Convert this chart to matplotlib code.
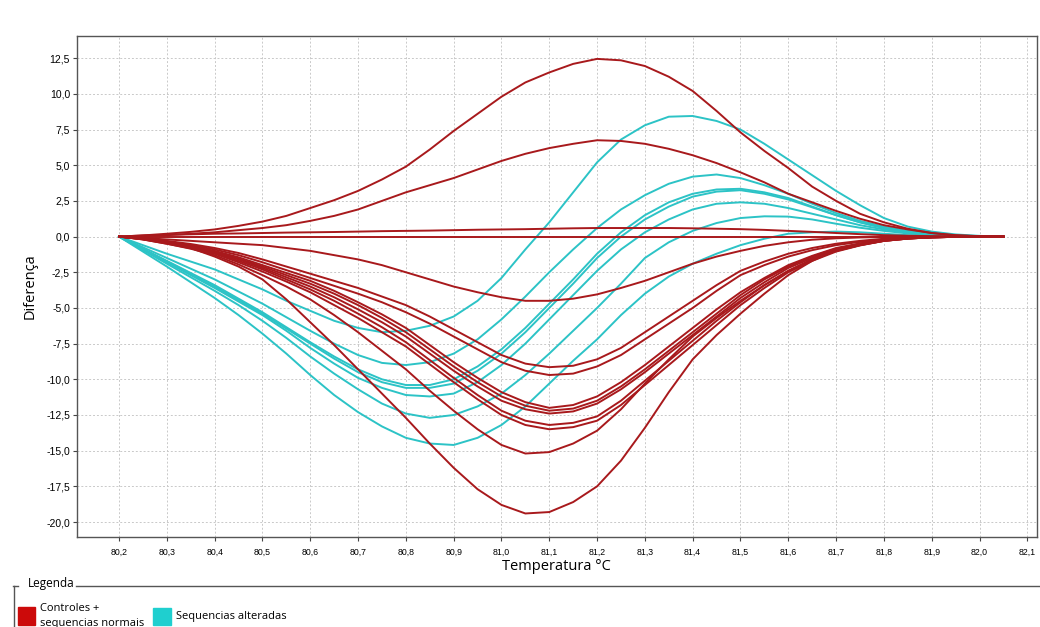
import matplotlib
matplotlib.use("Agg")
import matplotlib.pyplot as plt
from matplotlib.patches import Rectangle
from matplotlib.lines import Line2D
from matplotlib.ticker import FuncFormatter

# temperature points (°C), every 0.05 from 80.2 to 82.05
temps = [80.2, 80.25, 80.3, 80.35, 80.4, 80.45, 80.5, 80.55, 80.6, 80.65,
         80.7, 80.75, 80.8, 80.85, 80.9, 80.95, 81.0, 81.05, 81.1, 81.15,
         81.2, 81.25, 81.3, 81.35, 81.4, 81.45, 81.5, 81.55, 81.6, 81.65,
         81.7, 81.75, 81.8, 81.85, 81.9, 81.95, 82.0, 82.05]

# controles + sequencias normais (red)
red_curves = [
    [0, 0.08, 0.2, 0.33, 0.5, 0.75, 1.05, 1.45, 2.0, 2.55,
     3.2, 4.0, 4.9, 6.1, 7.4, 8.6, 9.8, 10.8, 11.5, 12.1,
     12.45, 12.35, 11.95, 11.2, 10.2, 8.8, 7.3, 6.0, 4.8, 3.5,
     2.5, 1.6, 1.0, 0.55, 0.25, 0.08, 0.02, 0],
    [0, 0.05, 0.1, 0.2, 0.3, 0.45, 0.6, 0.8, 1.1, 1.45,
     1.9, 2.5, 3.1, 3.6, 4.1, 4.7, 5.3, 5.8, 6.2, 6.5,
     6.75, 6.7, 6.5, 6.15, 5.7, 5.15, 4.5, 3.8, 3.0, 2.4,
     1.8, 1.25, 0.8, 0.5, 0.25, 0.1, 0.03, 0],
    [0, 0.08, 0.12, 0.16, 0.2, 0.22, 0.25, 0.28, 0.3, 0.32,
     0.35, 0.38, 0.4, 0.42, 0.45, 0.48, 0.5, 0.52, 0.55, 0.58,
     0.6, 0.6, 0.6, 0.6, 0.58, 0.55, 0.52, 0.47, 0.4, 0.33,
     0.25, 0.17, 0.1, 0.06, 0.03, 0.01, 0, 0],
    [0, 0, 0, 0, 0, 0, 0, 0, 0, 0,
     0, 0, 0, 0, 0, 0, 0, 0, 0, 0,
     0, 0, 0, 0, 0, 0, 0, 0, 0, 0,
     0, 0, 0, 0, 0, 0, 0, 0],
    [0, -0.1, -0.2, -0.3, -0.4, -0.5, -0.6, -0.8, -1.0, -1.3,
     -1.6, -2.0, -2.5, -3.0, -3.5, -3.9, -4.25, -4.5, -4.5, -4.35,
     -4.05, -3.6, -3.1, -2.5, -1.9, -1.4, -1.0, -0.65, -0.4, -0.22,
     -0.12, -0.06, -0.03, -0.01, 0, 0, 0, 0],
    [0, -0.12, -0.3, -0.52, -0.8, -1.15, -1.6, -2.1, -2.6, -3.1,
     -3.6, -4.2, -4.8, -5.6, -6.5, -7.4, -8.3, -8.9, -9.15, -9.05,
     -8.6, -7.8, -6.7, -5.6, -4.5, -3.4, -2.4, -1.75, -1.2, -0.8,
     -0.5, -0.3, -0.15, -0.07, -0.03, -0.01, 0, 0],
    [0, -0.14, -0.35, -0.6, -0.9, -1.3, -1.8, -2.35, -2.9, -3.45,
     -4.0, -4.6, -5.3, -6.1, -7.0, -7.9, -8.8, -9.4, -9.7, -9.6,
     -9.1, -8.3, -7.2, -6.1, -5.0, -3.8, -2.7, -2.0, -1.4, -0.95,
     -0.6, -0.37, -0.2, -0.1, -0.05, -0.02, 0, 0],
    [0, -0.15, -0.4, -0.68, -1.0, -1.45, -2.0, -2.55, -3.1, -3.8,
     -4.6, -5.45, -6.4, -7.6, -8.8, -9.9, -10.9, -11.6, -12.0, -11.8,
     -11.2, -10.2, -9.0, -7.7, -6.4, -5.1, -3.9, -2.9, -2.0, -1.35,
     -0.8, -0.48, -0.25, -0.12, -0.05, -0.02, 0, 0],
    [0, -0.16, -0.4, -0.7, -1.05, -1.55, -2.1, -2.7, -3.3, -4.0,
     -4.8, -5.7, -6.7, -7.9, -9.1, -10.2, -11.2, -11.85, -12.2, -12.05,
     -11.5, -10.5, -9.3, -8.0, -6.7, -5.4, -4.1, -3.0, -2.1, -1.4,
     -0.85, -0.5, -0.25, -0.12, -0.05, -0.02, 0, 0],
    [0, -0.18, -0.45, -0.75, -1.1, -1.6, -2.2, -2.85, -3.5, -4.25,
     -5.1, -6.0, -7.0, -8.2, -9.4, -10.5, -11.5, -12.1, -12.4, -12.25,
     -11.7, -10.7, -9.5, -8.2, -6.9, -5.6, -4.3, -3.2, -2.2, -1.5,
     -0.9, -0.55, -0.3, -0.14, -0.05, -0.02, 0, 0],
    [0, -0.18, -0.45, -0.78, -1.15, -1.7, -2.3, -3.0, -3.7, -4.5,
     -5.4, -6.35, -7.4, -8.65, -9.9, -11.1, -12.2, -12.9, -13.2, -13.05,
     -12.6, -11.5, -10.1, -8.7, -7.3, -5.9, -4.6, -3.4, -2.4, -1.6,
     -1.0, -0.6, -0.3, -0.14, -0.05, -0.02, 0, 0],
    [0, -0.2, -0.5, -0.82, -1.2, -1.8, -2.45, -3.15, -3.9, -4.8,
     -5.7, -6.7, -7.7, -8.95, -10.2, -11.4, -12.5, -13.2, -13.5, -13.35,
     -12.9, -11.8, -10.4, -9.0, -7.6, -6.2, -4.8, -3.6, -2.5, -1.7,
     -1.05, -0.62, -0.3, -0.14, -0.05, -0.02, 0, 0],
    [0, -0.2, -0.5, -0.85, -1.3, -1.95, -2.7, -3.5, -4.4, -5.5,
     -6.7, -8.0, -9.3, -10.8, -12.2, -13.5, -14.6, -15.2, -15.1, -14.5,
     -13.6, -12.1, -10.3, -8.6, -7.0, -5.7, -4.5, -3.4, -2.4, -1.6,
     -1.0, -0.6, -0.3, -0.14, -0.05, -0.02, 0, 0],
    [0, -0.15, -0.4, -0.8, -1.4, -2.1, -3.0, -4.4, -6.0, -7.6,
     -9.3, -11.0, -12.7, -14.5, -16.2, -17.7, -18.8, -19.4, -19.3, -18.6,
     -17.5, -15.7, -13.4, -10.9, -8.6, -6.9, -5.4, -4.0, -2.7, -1.7,
     -0.95, -0.5, -0.22, -0.1, -0.03, 0, 0, 0],
]

# sequencias alteradas (cyan)
cyan_curves = [
    [0, -0.6, -1.2, -1.75, -2.3, -3.0, -3.7, -4.5, -5.2, -5.9,
     -6.4, -6.7, -6.6, -6.25, -5.6, -4.5, -2.9, -0.9, 1.0, 3.1,
     5.2, 6.8, 7.8, 8.4, 8.45, 8.1, 7.5, 6.5, 5.4, 4.3,
     3.2, 2.2, 1.3, 0.7, 0.35, 0.15, 0.05, 0],
    [0, -0.75, -1.5, -2.25, -3.0, -3.85, -4.7, -5.65, -6.6, -7.5,
     -8.3, -8.85, -9.0, -8.8, -8.2, -7.2, -5.8, -4.2, -2.5, -0.9,
     0.6, 1.9, 2.9, 3.7, 4.2, 4.35, 4.1, 3.6, 3.0, 2.3,
     1.65, 1.1, 0.7, 0.4, 0.2, 0.08, 0.03, 0],
    [0, -0.85, -1.7, -2.55, -3.4, -4.35, -5.3, -6.35, -7.4, -8.4,
     -9.3, -10.0, -10.4, -10.4, -10.0, -9.1, -7.9, -6.4, -4.7, -3.0,
     -1.2, 0.3, 1.5, 2.4, 3.0, 3.3, 3.35, 3.1, 2.7, 2.1,
     1.5, 1.0, 0.6, 0.3, 0.15, 0.06, 0.03, 0],
    [0, -0.88, -1.75, -2.6, -3.5, -4.45, -5.4, -6.45, -7.5, -8.55,
     -9.5, -10.2, -10.6, -10.6, -10.3, -9.4, -8.2, -6.7, -5.0, -3.3,
     -1.5, 0.0, 1.2, 2.1, 2.8, 3.15, 3.25, 3.0, 2.6, 2.05,
     1.5, 1.0, 0.6, 0.3, 0.15, 0.06, 0.03, 0],
    [0, -0.9, -1.8, -2.7, -3.6, -4.55, -5.5, -6.6, -7.8, -8.9,
     -9.9, -10.6, -11.1, -11.2, -11.0, -10.2, -9.0, -7.5, -5.8, -4.1,
     -2.4, -0.9, 0.3, 1.2, 1.9, 2.3, 2.4, 2.3, 2.0, 1.6,
     1.2, 0.8, 0.5, 0.26, 0.12, 0.05, 0.02, 0],
    [0, -0.95, -1.9, -2.85, -3.8, -4.8, -5.9, -7.1, -8.4, -9.6,
     -10.7, -11.7, -12.4, -12.7, -12.5, -11.9, -11.0, -9.7, -8.2, -6.6,
     -5.0, -3.3, -1.5, -0.4, 0.4, 0.95, 1.3, 1.42, 1.4, 1.2,
     0.9, 0.62, 0.4, 0.22, 0.1, 0.04, 0.02, 0],
    [0, -1.05, -2.1, -3.2, -4.3, -5.5, -6.8, -8.2, -9.7, -11.1,
     -12.3, -13.3, -14.1, -14.5, -14.6, -14.1, -13.2, -11.9, -10.3, -8.7,
     -7.2, -5.5, -4.0, -2.8, -1.9, -1.2, -0.6, -0.15, 0.2, 0.3,
     0.35, 0.3, 0.2, 0.1, 0.05, 0.02, 0, 0],
]

x_ticks = [80.2, 80.3, 80.4, 80.5, 80.6, 80.7, 80.8, 80.9, 81.0, 81.1,
           81.2, 81.3, 81.4, 81.5, 81.6, 81.7, 81.8, 81.9, 82.0, 82.1]
y_ticks = [12.5, 10.0, 7.5, 5.0, 2.5, 0.0, -2.5, -5.0, -7.5, -10.0,
           -12.5, -15.0, -17.5, -20.0]

red_color = "#a8191c"
cyan_color = "#2cc3c6"

fig = plt.figure(figsize=(10.4, 6.27), dpi=100)
ax = fig.add_axes([0.074, 0.1435, 0.923, 0.799])

for vals in cyan_curves:
    ax.plot(temps, vals, color=cyan_color, lw=1.4, zorder=3)
for vals in red_curves:
    ax.plot(temps, vals, color=red_color, lw=1.4, zorder=4)

ax.set_xlim(80.112, 82.12)
ax.set_ylim(-21.05, 14.05)
ax.set_xticks(x_ticks)
ax.set_yticks(y_ticks)

comma = FuncFormatter(lambda v, p: f"{v:.1f}".replace(".", ","))
ax.xaxis.set_major_formatter(comma)
ax.yaxis.set_major_formatter(comma)

ax.tick_params(axis="x", labelsize=6.3, length=3, width=0.8, color="#444444", pad=5)
ax.tick_params(axis="y", labelsize=7.5, length=3, width=0.8, color="#444444", pad=2)
for lab in ax.get_xticklabels() + ax.get_yticklabels():
    lab.set_fontfamily("Liberation Sans")

ax.grid(True, color="#c9c9c9", lw=0.7, linestyle=(0, (2, 2)))
ax.set_axisbelow(True)
for sp in ax.spines.values():
    sp.set_color("#555555")
    sp.set_linewidth(1.0)

ax.set_xlabel("Temperatura °C", fontsize=10.5, family="Open Sans", labelpad=1)
ax.set_ylabel("Diferença", fontsize=10.5, family="Open Sans", labelpad=6)

# legend block under the chart
fig.text(28 / 1040, 1 - 584 / 627, "Legenda", fontsize=8.5, family="Open Sans",
         va="center", ha="left")
fig.add_artist(Line2D([13 / 1040, 18 / 1040], [1 - 585.5 / 627] * 2,
                      color="#555555", lw=1.0))
fig.add_artist(Line2D([76 / 1040, 1.0], [1 - 585.5 / 627] * 2,
                      color="#555555", lw=1.0))
fig.add_artist(Line2D([14 / 1040, 14 / 1040], [1 - 585.5 / 627, 0],
                      color="#555555", lw=1.0))
fig.add_artist(Rectangle((18 / 1040, 1 - 625 / 627), 17 / 1040, 18 / 627,
                         transform=fig.transFigure, color="#cc0a0a"))
fig.add_artist(Rectangle((153 / 1040, 1 - 625 / 627), 18 / 1040, 17 / 627,
                         transform=fig.transFigure, color="#1fcfcf"))
fig.text(40 / 1040, 1 - 603 / 627, "Controles +\nsequencias normais", fontsize=8,
         family="Open Sans", va="top", ha="left", linespacing=1.5)
fig.text(176 / 1040, 1 - 617 / 627, "Sequencias alteradas", fontsize=8,
         family="Open Sans", va="center", ha="left")

fig.savefig("out.png", dpi=100)
